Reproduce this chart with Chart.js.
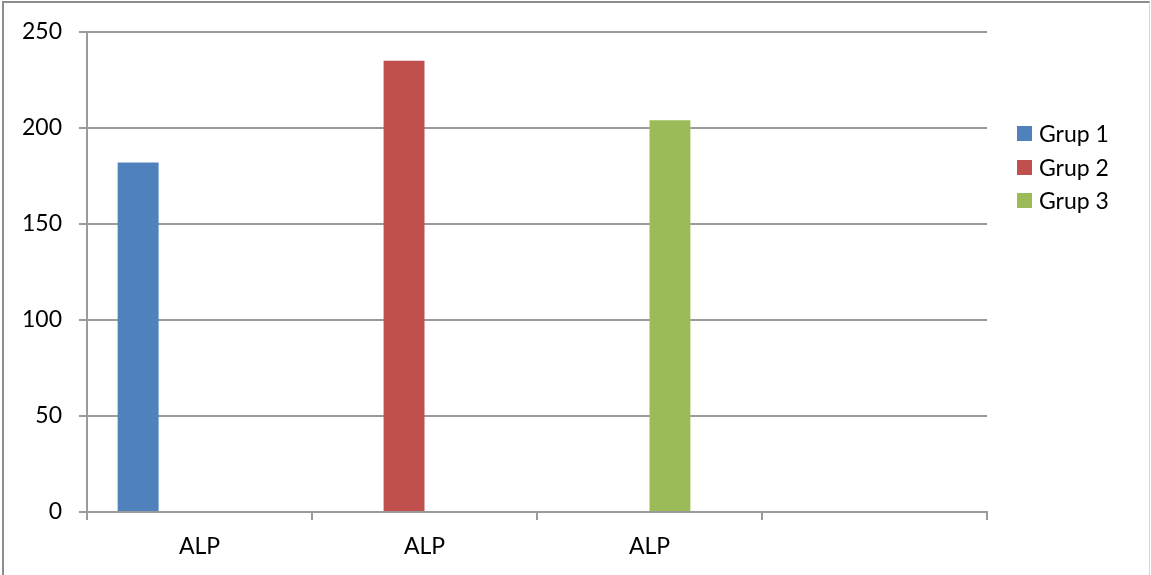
<!DOCTYPE html>
<html>
<head>
<meta charset="utf-8">
<script src="https://cdn.jsdelivr.net/npm/chart.js@4.4.1/dist/chart.umd.min.js"></script>
<style>
  html, body { margin: 0; padding: 0; background: #fff; overflow: hidden; }
  #wrap { position: relative; width: 1151px; height: 575px; }
  #c { position: absolute; left: 0; top: 0; }
  #frame {
    position: absolute; left: 2px; top: 1px; width: 1145px; height: 640px;
    border-left: 2px solid #8c8c8c; border-top: 2px solid #8c8c8c; border-right: 1px solid #d6d6d6;
    pointer-events: none;
  }
</style>
</head>
<body>
<div id="wrap">
  <canvas id="c" width="1151" height="575"></canvas>
  <div id="frame"></div>
</div>
<script>
// Categories along the horizontal axis (the last slot is left empty)
const categories = ['ALP', 'ALP', 'ALP', ''];

// One value per series, each in its own category
const seriesNames = ['Grup 1', 'Grup 2', 'Grup 3'];
const grup1 = [182, null, null, null];
const grup2 = [null, 235, null, null];
const grup3 = [null, null, 204, null];
// Fourth, empty series that still reserves its slot in every group
const emptySeries = [null, null, null, null];

// Value axis ticks
const yTicks = [0, 50, 100, 150, 200, 250];

const seriesColors = ['#4F81BD', '#C0504D', '#9BBB59'];
const axisGray = '#9a9a9a';
const FONT = 'Lato, "Open Sans", sans-serif';

// Legend drawn at the right, next to the plot
const sideLegend = {
  id: 'sideLegend',
  afterDraw(chart, args, opts) {
    const ctx = chart.ctx;
    ctx.save();
    ctx.font = opts.size + 'px ' + FONT;
    ctx.textBaseline = 'middle';
    ctx.textAlign = 'left';
    let y = opts.top;
    chart.data.datasets.forEach(ds => {
      if (!ds.label) return;
      ctx.fillStyle = ds.backgroundColor;
      ctx.fillRect(opts.left, Math.round(y - opts.box / 2), opts.box, opts.box);
      ctx.fillStyle = opts.color;
      ctx.fillText(ds.label, opts.left + opts.box + opts.gap, y + opts.textShift);
      y += opts.spacing;
    });
    ctx.restore();
  }
};

const datasets = [grup1, grup2, grup3].map((data, i) => ({
  label: seriesNames[i],
  data: data,
  backgroundColor: seriesColors[i],
  borderWidth: 0
}));
datasets.push({ label: '', data: emptySeries, backgroundColor: 'rgba(0,0,0,0)' });

new Chart(document.getElementById('c'), {
  type: 'bar',
  data: { labels: categories, datasets: datasets },
  plugins: [sideLegend],
  options: {
    responsive: false,
    animation: false,
    devicePixelRatio: 1,
    layout: { padding: { top: 32, right: 164, bottom: 0, left: 0 } },
    datasets: { bar: { categoryPercentage: 4 / 5.5, barPercentage: 1, skipNull: false } },
    plugins: {
      legend: { display: false },
      tooltip: { enabled: false },
      sideLegend: { left: 1017, top: 133.5, spacing: 33.7, box: 15, gap: 7, size: 23, color: '#000', textShift: 1 }
    },
    scales: {
      x: {
        offset: true,
        afterFit(scale) { scale.height = 63; },
        grid: { display: true, offset: true, drawOnChartArea: false, drawTicks: true, tickLength: 8, color: axisGray, lineWidth: 2 },
        border: { display: true, color: axisGray, width: 2 },
        ticks: { color: '#000', font: { family: FONT, size: 23 }, padding: 13, maxRotation: 0, autoSkip: false }
      },
      y: {
        min: 0,
        max: 250,
        afterFit(scale) { scale.width = 87; },
        afterBuildTicks(scale) { scale.ticks = yTicks.map(v => ({ value: v })); },
        grid: { color: axisGray, lineWidth: 2, drawTicks: true, tickLength: 8 },
        border: { display: true, color: axisGray, width: 2 },
        ticks: { color: '#000', font: { family: FONT, size: 23 }, padding: 17 }
      }
    }
  }
});
</script>
</body>
</html>
